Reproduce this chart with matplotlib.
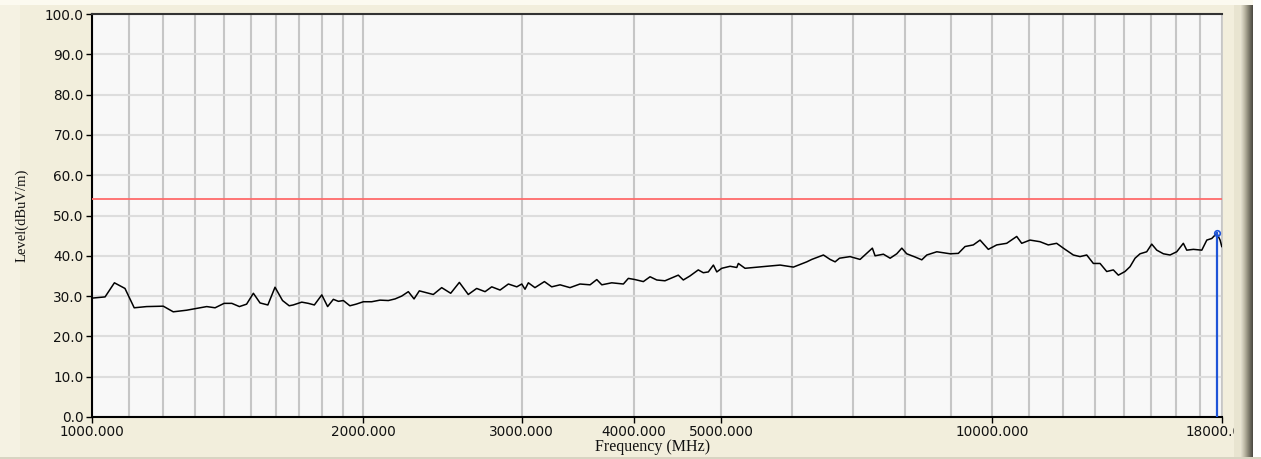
import matplotlib
matplotlib.use("Agg")
import matplotlib.pyplot as plt
from matplotlib.patches import Rectangle
from matplotlib.ticker import FixedLocator, FixedFormatter, NullFormatter

# ---------------- data ----------------
freq_mhz = [
    1000, 1034, 1059, 1088, 1114, 1150, 1200, 1231, 1274, 1318, 1341, 1370, 1402, 1430,
    1458, 1485, 1511, 1537, 1568, 1597, 1628, 1656, 1673, 1710, 1739, 1766, 1800, 1827,
    1854, 1878, 1902, 1934, 1965, 2002, 2045, 2089, 2134, 2171, 2208, 2246, 2279, 2310,
    2394, 2446, 2503, 2559, 2618, 2675, 2733, 2780, 2840, 2901, 2964, 3002, 3027, 3053,
    3105, 3181, 3241, 3311, 3396, 3484, 3575, 3637, 3684, 3779, 3893, 3943, 4011, 4097,
    4168, 4240, 4330, 4424, 4480, 4538, 4616, 4715, 4776, 4838, 4901, 4944, 5007, 5115,
    5203, 5224, 5314, 5428, 5618, 5813, 6014, 6223, 6303, 6494, 6606, 6691, 6766,
    6952, 7132, 7360, 7411, 7571, 7702, 7834, 7936, 8036, 8210, 8352, 8460, 8679, 8981,
    9170, 9329, 9528, 9694, 9901, 10116, 10378, 10647, 10784, 11015, 11300, 11542, 11792,
    11995, 12306, 12518, 12735, 12953, 13177, 13404, 13632, 13808, 14045, 14227, 14411,
    14596, 14847, 15039, 15234, 15494, 15760, 16032, 16305, 16448, 16730, 17093, 17314,
    17536, 17763, 17912, 17990,
]
level_dbuv = [
    29.5, 29.8, 33.3, 31.9, 27.1, 27.4, 27.5, 26.1, 26.5, 27.1, 27.4, 27.1, 28.2, 28.2,
    27.4, 28.0, 30.7, 28.3, 27.8, 32.2, 28.9, 27.6, 27.8, 28.5, 28.2, 27.8, 30.3, 27.4,
    29.2, 28.7, 28.9, 27.6, 28.0, 28.6, 28.6, 29.0, 28.9, 29.3, 30.0, 31.1, 29.3, 31.3,
    30.4, 32.1, 30.7, 33.4, 30.4, 31.9, 31.1, 32.3, 31.5, 33.0, 32.3, 33.0, 31.7, 33.3,
    32.1, 33.6, 32.3, 32.8, 32.1, 33.0, 32.8, 34.1, 32.8, 33.3, 33.0, 34.4, 34.1, 33.6,
    34.8, 34.0, 33.8, 34.7, 35.2, 34.0, 35.0, 36.5, 35.8, 36.0, 37.7, 36.0, 36.9, 37.4,
    37.1, 38.1, 36.9, 37.1, 37.4, 37.7, 37.2, 38.5, 39.1, 40.2, 39.1, 38.5, 39.4,
    39.8, 39.1, 41.9, 40.0, 40.4, 39.4, 40.5, 41.9, 40.5, 39.7, 39.0, 40.2, 41.0, 40.5,
    40.6, 42.3, 42.7, 43.9, 41.6, 42.7, 43.1, 44.8, 43.1, 43.9, 43.5, 42.7, 43.1,
    41.9, 40.2, 39.8, 40.2, 38.1, 38.1, 36.1, 36.5, 35.2, 36.1, 37.3, 39.4,
    40.5, 41.0, 42.9, 41.4, 40.5, 40.2, 41.0, 43.1, 41.4, 41.6, 41.4, 43.9,
    44.3, 45.6, 43.9, 42.3,
]
limit_level = 54.0
marker_freq = 17763
marker_level = 45.6

major_ticks = [1000, 2000, 3000, 4000, 5000, 10000, 18000]
major_labels = ["1000.000", "2000.000", "3000.000", "4000.000", "5000.000", "10000.000", "18000.000"]
minor_ticks = [1100, 1200, 1300, 1400, 1500, 1600, 1700, 1800, 1900,
               6000, 7000, 8000, 9000, 11000, 12000, 13000, 14000, 15000, 16000, 17000]
y_ticks = [0, 10, 20, 30, 40, 50, 60, 70, 80, 90, 100]

# ---------------- figure ----------------
W, H = 1261, 459
fig = plt.figure(figsize=(W / 100, H / 100), dpi=100, facecolor="#F2EEDC")

def px_rect(x0, y0, x1, y1, color, z=5):
    r = Rectangle((x0 / W, 1 - y1 / H), (x1 - x0) / W, (y1 - y0) / H,
                  transform=fig.transFigure, facecolor=color, edgecolor="none", zorder=z)
    fig.patches.append(r)

# lighter top band and left strip
px_rect(0, 0, W, 5, "#FCFAF0", z=-1)
px_rect(0, 5, 20, H, "#F5F2E3", z=-1)

ax = fig.add_axes([92 / W, (H - 417) / H, (1222 - 92) / W, (417 - 14) / H])
ax.set_facecolor("#F8F8F8")
ax.set_xscale("log")
ax.set_xlim(1000, 18000)
ax.set_ylim(0, 100)

ax.xaxis.set_major_locator(FixedLocator(major_ticks))
ax.xaxis.set_major_formatter(FixedFormatter(major_labels))
ax.xaxis.set_minor_locator(FixedLocator(minor_ticks))
ax.xaxis.set_minor_formatter(NullFormatter())
ax.set_yticks(y_ticks)
ax.set_yticklabels([f"{v:.1f}" for v in y_ticks])

ax.tick_params(axis="both", which="major", direction="out", length=4, width=1,
               color="black", labelsize=9.8, pad=2, labelcolor="#111111")
ax.tick_params(axis="x", which="minor", length=0)

ax.grid(True, which="both", axis="x", color="#C6C6C6", linewidth=1.5, zorder=0)
ax.grid(True, which="major", axis="y", color="#DDDDDD", linewidth=1.5, zorder=0)
ax.set_axisbelow(True)

for side in ["left", "bottom"]:
    ax.spines[side].set_color("black")
    ax.spines[side].set_linewidth(1.5)
ax.spines["top"].set_color("#333333")
ax.spines["top"].set_linewidth(1.5)
ax.spines["right"].set_color("#C6C6C6")
ax.spines["right"].set_linewidth(1.2)

ax.axhline(limit_level, color="#FF6B6B", linewidth=1.3, zorder=3)
ax.plot(freq_mhz, level_dbuv, color="black", linewidth=1.1, zorder=4)
ax.plot([marker_freq, marker_freq], [0, marker_level], color="#1F55D8", linewidth=1.6, zorder=5)
ax.plot([marker_freq], [marker_level], marker="o", markersize=4, markerfacecolor="none",
        markeredgecolor="#1F55D8", markeredgewidth=1.2, zorder=6)

fig.text(22 / W, 1 - 215 / H, "Level(dBuV/m)", rotation=90, ha="center", va="center",
         family="Liberation Serif", fontsize=10.5, color="#111111")
fig.text(653 / W, 1 - 447 / H, "Frequency (MHz)", ha="center", va="center",
         family="Liberation Serif", fontsize=11.5, color="#111111")

# right-hand window edge (covers the clipped 18000 label like the original)
px_rect(1234, 5, 1241, H, "#E8E4D0", z=10)
shades = ["#DEDACA", "#D4D0BE", "#C9C5B2", "#BDB9A6", "#B0AC99", "#A29E8C", "#93907F",
          "#858272", "#777466", "#69675B", "#5C5A50", "#4F4D45"]
for i, c in enumerate(shades):
    px_rect(1241 + i, 5, 1242 + i, H, c, z=10)
px_rect(1253, 0, W, H, "#FFFFFF", z=10)
px_rect(0, H - 2, W, H, "#D8D4C2", z=10)

fig.savefig("out.png", dpi=100, facecolor=fig.get_facecolor())
